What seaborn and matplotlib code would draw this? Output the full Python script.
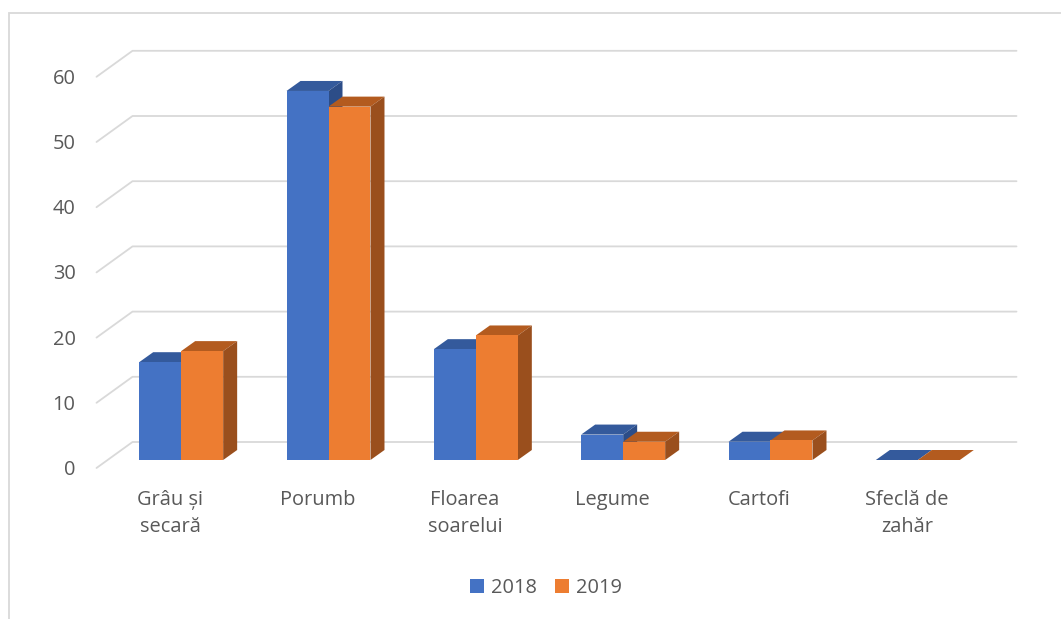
# Suprafete cultivate 2018 vs 2019 - grafic cu bare in stil 3D (ca in Excel)
import matplotlib
matplotlib.use('Agg')
import matplotlib.pyplot as plt
import seaborn as sns
import pandas as pd
from matplotlib.patches import Polygon, Rectangle, Patch
from matplotlib.lines import Line2D
from matplotlib.transforms import IdentityTransform, offset_copy

culturi = ['Grâu și\nsecară', 'Porumb', 'Floarea\nsoarelui', 'Legume', 'Cartofi', 'Sfeclă de\nzahăr']
valori_2018 = [15.0, 56.6, 17.0, 3.9, 2.8, 0.0]
valori_2019 = [16.7, 54.2, 19.1, 2.8, 3.0, 0.0]
ani = ['2018', '2019']
y_ticks = [0, 10, 20, 30, 40, 50, 60]

culoare_fata = {'2018': '#4472C4', '2019': '#ED7D31'}
culoare_sus = {'2018': '#345A9C', '2019': '#B35B1F'}
culoare_lateral = {'2018': '#2C4D88', '2019': '#9A4F1D'}
gri = '#D9D9D9'
text_gri = '#595959'

df = pd.DataFrame({
    'cultura': culturi * 2,
    'an': ['2018'] * len(culturi) + ['2019'] * len(culturi),
    'valoare': valori_2018 + valori_2019,
})

sns.set_style('white')
plt.rcParams['font.family'] = ['Open Sans', 'DejaVu Sans']

W, H = 1061, 619
fig = plt.figure(figsize=(W / 100, H / 100), dpi=100)
# axa e in planul barelor; peretele din spate si planul din fata sunt decalate
ax = fig.add_axes([107.5 / W, (H - 460) / H, 884 / W, 391.2 / H])
sns.barplot(data=df, x='cultura', y='valoare', hue='an', order=culturi, hue_order=ani,
            palette=culoare_fata, width=0.57, saturation=1, errorbar=None,
            legend=False, linewidth=0, ax=ax)
ax.set_xlim(-0.5, len(culturi) - 0.5)
ax.set_ylim(0, 60)
ax.axis('off')

fata = (-11, -8)     # planul din fata (unde sunt etichetele)
spate = (25, 18)     # peretele din spate
adanc = (14, 10)     # adancimea barelor


def px(x, y, off=(0, 0)):
    X, Y = ax.transData.transform((x, y))
    return X + off[0], Y + off[1]


# liniile de grila: diagonala pe podea/perete + linia orizontala pe peretele din spate
x_min, x_max = ax.get_xlim()
for v in y_ticks:
    a = px(x_min, v, fata)
    b = px(x_min, v, spate)
    c = px(x_max, v, spate)
    ax.add_line(Line2D([a[0], b[0], c[0]], [a[1], b[1], c[1]], transform=IdentityTransform(),
                       color=gri, lw=1.3, zorder=0.5, clip_on=False))

# fetele de sus si laterale ale barelor
for k, (an, cont) in enumerate(zip(ani, ax.containers)):
    for bar in cont:
        x0 = bar.get_x()
        x1 = x0 + bar.get_width()
        h = bar.get_height()
        bar.set_zorder(2.5 + k)
        bar.set_clip_on(False)
        sus = [px(x0, h), px(x1, h), px(x1, h, adanc), px(x0, h, adanc)]
        lat = [px(x1, 0), px(x1, h), px(x1, h, adanc), px(x1, 0, adanc)]
        ax.add_patch(Polygon(sus, closed=True, transform=IdentityTransform(),
                             fc=culoare_sus[an], ec='none', zorder=2 + k, clip_on=False))
        ax.add_patch(Polygon(lat, closed=True, transform=IdentityTransform(),
                             fc=culoare_lateral[an], ec='none', zorder=2 + k, clip_on=False))

# etichete axa Y
tr_y = offset_copy(ax.transData, fig=fig, x=fata[0] - 21, y=fata[1] - 2, units='dots')
for v in y_ticks:
    ax.text(x_min, v, str(v), transform=tr_y, ha='right', va='center',
            fontsize=14.4, color=text_gri, clip_on=False)

# etichete categorii
tr_x = offset_copy(ax.transData, fig=fig, x=fata[0], y=-30, units='dots')
for i, c in enumerate(culturi):
    ax.text(i, 0, c, transform=tr_x, ha='center', va='top', fontsize=14.4,
            color=text_gri, linespacing=1.45, clip_on=False)

# legenda
handles = [Patch(facecolor=culoare_fata[a], edgecolor='none', label=a) for a in ani]
fig.legend(handles=handles, loc='center', bbox_to_anchor=(546 / W, 1 - 588 / H), ncol=2,
           frameon=False, fontsize=14.4, labelcolor=text_gri, handlelength=0.7,
           handleheight=0.7, handletextpad=0.35, columnspacing=0.9)

# chenarul graficului
fig.add_artist(Rectangle((8.5 / W, -0.1), 1.2, (H - 13.5) / H + 0.1, transform=fig.transFigure,
                         fill=False, ec=gri, lw=1.3))

fig.savefig('out.png', dpi=100)
